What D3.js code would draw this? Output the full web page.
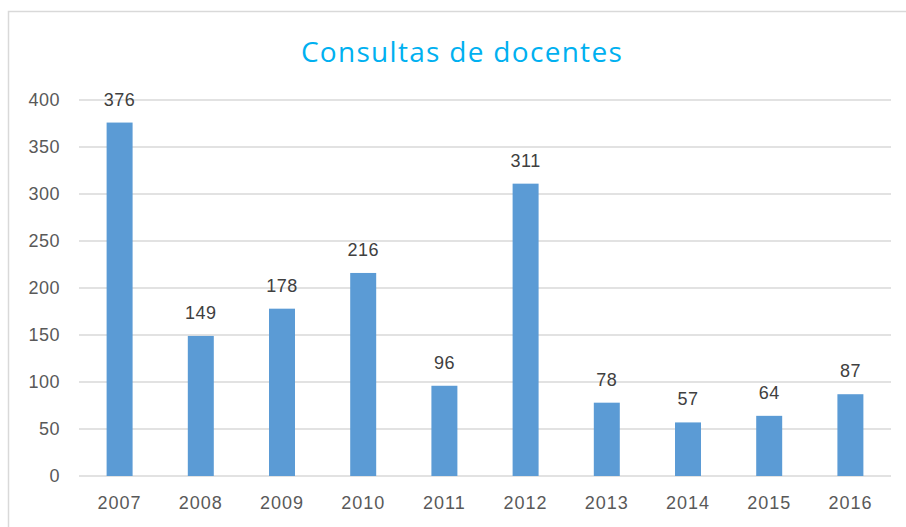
<!DOCTYPE html>
<html>
<head>
<meta charset="utf-8">
<script src="https://cdn.jsdelivr.net/npm/d3@7"></script>
<style>
  body { margin: 0; background: #fff; }
  text { font-family: "Liberation Sans", Arial, sans-serif; }
</style>
</head>
<body>
<svg width="906" height="527"></svg>
<script>
const svg = d3.select("svg");

const years = ["2007", "2008", "2009", "2010", "2011", "2012", "2013", "2014", "2015", "2016"];
const consultas = [376, 149, 178, 216, 96, 311, 78, 57, 64, 87];
const yTicks = [0, 50, 100, 150, 200, 250, 300, 350, 400];

const data = years.map((y, i) => ({year: y, value: consultas[i]}));

//====== Frame ======
svg.append("rect")
    .attr("x", 8.5).attr("y", 11.5)
    .attr("width", 920).attr("height", 540)
    .attr("fill", "none")
    .attr("stroke", "#d9d9d9")
    .attr("stroke-width", 1.5);

//====== Scales ======
const x = d3.scaleBand()
    .domain(years)
    .range([79, 891])
    .paddingInner(0.68)
    .paddingOuter(0.34);

const y = d3.scaleLinear()
    .domain([0, 400])
    .range([476, 100]);

//====== Grid ======
svg.append("g")
    .selectAll("line")
    .data(yTicks)
    .enter().append("line")
        .attr("x1", 79).attr("x2", 891)
        .attr("y1", d => y(d)).attr("y2", d => y(d))
        .attr("stroke", "#d9d9d9")
        .attr("stroke-width", 1.5);

//====== Axes ======
const yAxis = svg.append("g")
    .attr("transform", "translate(60,0)")
    .call(d3.axisLeft(y).tickValues(yTicks).tickSize(0).tickPadding(0));
yAxis.select(".domain").remove();
yAxis.selectAll("text")
    .attr("fill", "#595959")
    .style("font-size", "18px")
    .style("letter-spacing", "0.5px");

const xAxis = svg.append("g")
    .attr("transform", "translate(0,476)")
    .call(d3.axisBottom(x).tickSize(0).tickPadding(20));
xAxis.select(".domain").remove();
xAxis.selectAll("text")
    .attr("fill", "#595959")
    .style("font-size", "18px")
    .style("letter-spacing", "1px");

//====== Bars ======
svg.append("g")
    .selectAll("rect")
    .data(data)
    .enter().append("rect")
        .attr("x", d => x(d.year))
        .attr("y", d => y(d.value))
        .attr("width", x.bandwidth())
        .attr("height", d => y(0) - y(d.value))
        .attr("fill", "#5b9bd5");

svg.append("g")
    .selectAll("text")
    .data(data)
    .enter().append("text")
        .attr("x", d => x(d.year) + x.bandwidth() / 2)
        .attr("y", d => y(d.value) - 17)
        .attr("text-anchor", "middle")
        .attr("fill", "#404040")
        .style("font-size", "18px")
        .style("letter-spacing", "0.5px")
        .text(d => d.value);

//====== Title ======
svg.append("text")
    .attr("x", 462)
    .attr("y", 62)
    .attr("text-anchor", "middle")
    .attr("fill", "#00b0f0")
    .style("font-family", "'Open Sans', sans-serif")
    .style("font-size", "28px")
    .style("letter-spacing", "1.3px")
    .text("Consultas de docentes");
</script>
</body>
</html>
